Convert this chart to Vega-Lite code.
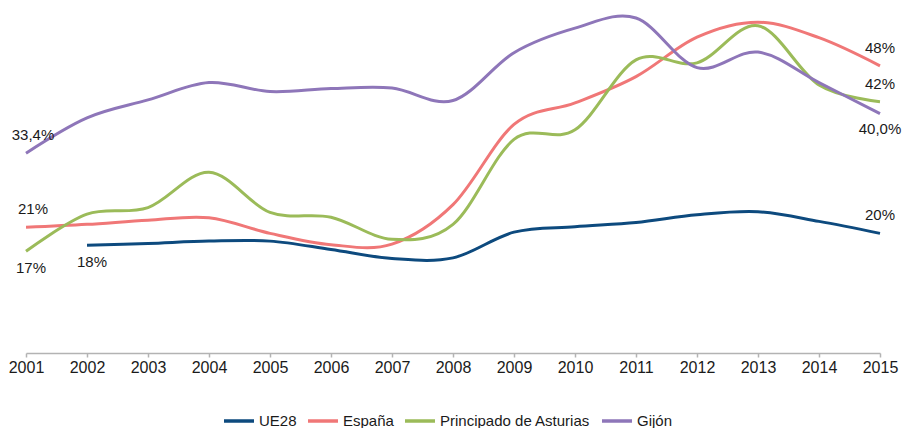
{
  "$schema": "https://vega.github.io/schema/vega-lite/v6.json",
  "width": 854,
  "height": 347,
  "autosize": {"type": "none"},
  "padding": {"left": 26, "top": 6, "right": 33, "bottom": 75},
  "background": "white",
  "config": {"view": {"stroke": null}, "font": "Liberation Sans"},
  "data": {"values": [
    {"serie": "UE28", "year": 2002, "v": 18.0, "label": "18%"},
    {"serie": "UE28", "year": 2003, "v": 18.3},
    {"serie": "UE28", "year": 2004, "v": 18.7},
    {"serie": "UE28", "year": 2005, "v": 18.7},
    {"serie": "UE28", "year": 2006, "v": 17.3},
    {"serie": "UE28", "year": 2007, "v": 15.8},
    {"serie": "UE28", "year": 2008, "v": 15.9},
    {"serie": "UE28", "year": 2009, "v": 20.2},
    {"serie": "UE28", "year": 2010, "v": 21.1},
    {"serie": "UE28", "year": 2011, "v": 21.8},
    {"serie": "UE28", "year": 2012, "v": 23.1},
    {"serie": "UE28", "year": 2013, "v": 23.6},
    {"serie": "UE28", "year": 2014, "v": 22.0},
    {"serie": "UE28", "year": 2015, "v": 20.0, "label": "20%"},
    {"serie": "España", "year": 2001, "v": 21.0, "label": "21%"},
    {"serie": "España", "year": 2002, "v": 21.5},
    {"serie": "España", "year": 2003, "v": 22.2},
    {"serie": "España", "year": 2004, "v": 22.6},
    {"serie": "España", "year": 2005, "v": 20.0},
    {"serie": "España", "year": 2006, "v": 18.1},
    {"serie": "España", "year": 2007, "v": 18.2},
    {"serie": "España", "year": 2008, "v": 24.8},
    {"serie": "España", "year": 2009, "v": 38.2},
    {"serie": "España", "year": 2010, "v": 41.8},
    {"serie": "España", "year": 2011, "v": 46.2},
    {"serie": "España", "year": 2012, "v": 52.8},
    {"serie": "España", "year": 2013, "v": 55.3},
    {"serie": "España", "year": 2014, "v": 52.7},
    {"serie": "España", "year": 2015, "v": 48.0, "label": "48%"},
    {"serie": "Principado de Asturias", "year": 2001, "v": 17.0, "label": "17%"},
    {"serie": "Principado de Asturias", "year": 2002, "v": 23.2},
    {"serie": "Principado de Asturias", "year": 2003, "v": 24.3},
    {"serie": "Principado de Asturias", "year": 2004, "v": 30.2},
    {"serie": "Principado de Asturias", "year": 2005, "v": 23.5},
    {"serie": "Principado de Asturias", "year": 2006, "v": 22.7},
    {"serie": "Principado de Asturias", "year": 2007, "v": 19.0},
    {"serie": "Principado de Asturias", "year": 2008, "v": 21.5},
    {"serie": "Principado de Asturias", "year": 2009, "v": 35.7},
    {"serie": "Principado de Asturias", "year": 2010, "v": 37.3},
    {"serie": "Principado de Asturias", "year": 2011, "v": 49.0},
    {"serie": "Principado de Asturias", "year": 2012, "v": 48.5},
    {"serie": "Principado de Asturias", "year": 2013, "v": 54.7},
    {"serie": "Principado de Asturias", "year": 2014, "v": 44.8},
    {"serie": "Principado de Asturias", "year": 2015, "v": 42.0, "label": "42%"},
    {"serie": "Gijón", "year": 2001, "v": 33.4, "label": "33,4%"},
    {"serie": "Gijón", "year": 2002, "v": 39.3},
    {"serie": "Gijón", "year": 2003, "v": 42.3},
    {"serie": "Gijón", "year": 2004, "v": 45.2},
    {"serie": "Gijón", "year": 2005, "v": 43.7},
    {"serie": "Gijón", "year": 2006, "v": 44.2},
    {"serie": "Gijón", "year": 2007, "v": 44.3},
    {"serie": "Gijón", "year": 2008, "v": 42.2},
    {"serie": "Gijón", "year": 2009, "v": 50.2},
    {"serie": "Gijón", "year": 2010, "v": 54.3},
    {"serie": "Gijón", "year": 2011, "v": 56.0},
    {"serie": "Gijón", "year": 2012, "v": 47.7},
    {"serie": "Gijón", "year": 2013, "v": 50.3},
    {"serie": "Gijón", "year": 2014, "v": 45.2},
    {"serie": "Gijón", "year": 2015, "v": 40.0, "label": "40,0%"}
  ]},
  "encoding": {
    "x": {
      "field": "year", "type": "ordinal",
      "scale": {"type": "point", "padding": 0},
      "axis": {
        "title": null, "labelAngle": 0, "labelFontSize": 16, "labelColor": "#1a1a1a",
        "labelPadding": 2, "domainColor": "#b3b3b3", "tickColor": "#b3b3b3",
        "tickSize": 4, "domainWidth": 1.5, "tickWidth": 1.5, "grid": false
      }
    },
    "y": {
      "field": "v", "type": "quantitative",
      "scale": {"domain": [0, 58], "nice": false, "zero": true},
      "axis": null
    }
  },
  "layer": [
    {
      "mark": {"type": "line", "interpolate": "cardinal", "strokeWidth": 3},
      "encoding": {
        "color": {
          "field": "serie", "type": "nominal",
          "scale": {
            "domain": ["UE28", "España", "Principado de Asturias", "Gijón"],
            "range": ["#0d4a7e", "#f07777", "#9bbb59", "#8e76b9"]
          },
          "legend": {
            "title": null, "orient": "none", "direction": "horizontal",
            "legendX": 196, "legendY": 398,
            "symbolType": "stroke", "symbolSize": 900, "symbolStrokeWidth": 3.5,
            "labelFontSize": 15, "labelColor": "#1a1a1a", "labelOffset": 3,
            "columnPadding": 4
          }
        }
      }
    },
    {
      "transform": [{"filter": "datum.label && datum.year <= 2002 && (datum.serie == 'Gijón' || datum.serie == 'España')"}],
      "mark": {"type": "text", "fontSize": 15, "color": "#1a1a1a", "dx": 7, "dy": -18},
      "encoding": {"text": {"field": "label"}}
    },
    {
      "transform": [{"filter": "datum.label && datum.year <= 2002 && datum.serie != 'Gijón' && datum.serie != 'España'"}],
      "mark": {"type": "text", "fontSize": 15, "color": "#1a1a1a", "dx": 5, "dy": 17},
      "encoding": {"text": {"field": "label"}}
    },
    {
      "transform": [{"filter": "datum.label && datum.year == 2015 && datum.serie != 'Gijón'"}],
      "mark": {"type": "text", "fontSize": 15, "color": "#1a1a1a", "dx": 0, "dy": -18},
      "encoding": {"text": {"field": "label"}}
    },
    {
      "transform": [{"filter": "datum.label && datum.year == 2015 && datum.serie == 'Gijón'"}],
      "mark": {"type": "text", "fontSize": 15, "color": "#1a1a1a", "dx": 0, "dy": 15},
      "encoding": {"text": {"field": "label"}}
    }
  ]
}
